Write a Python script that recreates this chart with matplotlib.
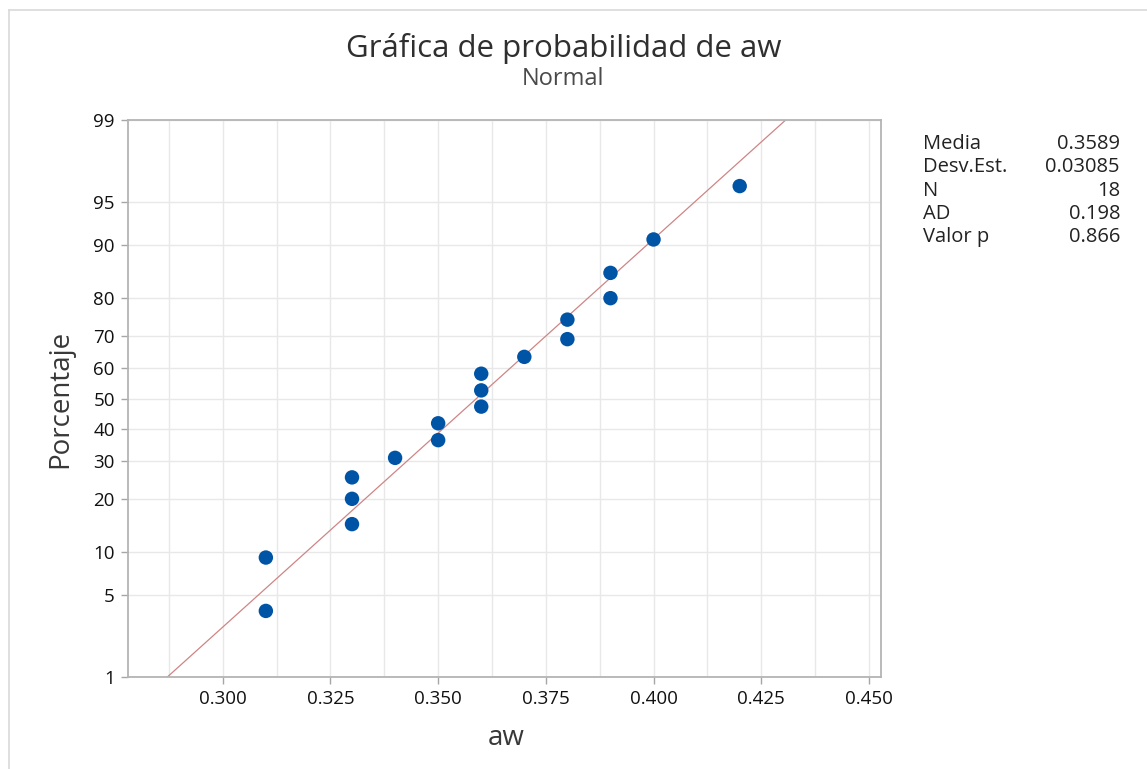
import numpy as np
import matplotlib
matplotlib.use("Agg")
import matplotlib.pyplot as plt
from matplotlib.lines import Line2D
from statistics import NormalDist

# aw values (sorted) and their plotted percentages
aw = [0.31, 0.31, 0.33, 0.33, 0.33, 0.34, 0.35, 0.35, 0.36,
      0.36, 0.36, 0.37, 0.38, 0.38, 0.39, 0.39, 0.40, 0.42]
percent = [3.8, 9.2, 14.7, 20.1, 25.5, 31.0, 36.4, 41.8, 47.3,
           52.7, 58.2, 63.6, 69.0, 74.5, 79.9, 85.3, 90.8, 96.2]

# fitted normal line
mean = 0.3589
stdev = 0.03085

y_ticks = [1, 5, 10, 20, 30, 40, 50, 60, 70, 80, 90, 95, 99]
x_ticks = [0.300, 0.325, 0.350, 0.375, 0.400, 0.425, 0.450]

stat_names = ["Media", "Desv.Est.", "N", "AD", "Valor p"]
stat_values = ["0.3589", "0.03085", "18", "0.198", "0.866"]

nd = NormalDist()


def z(p):
    return np.array([nd.inv_cdf(v / 100.0) for v in np.atleast_1d(p)])


plt.rcParams['font.family'] = ['Open Sans', 'DejaVu Sans']

W, H = 1147, 769
fig = plt.figure(figsize=(W / 100, H / 100), dpi=100)
ax = fig.add_axes([128 / W, 1 - 677 / H, (881 - 128) / W, (677 - 120) / H])

ax.set_xlim(0.2780, 0.4528)
ax.set_ylim(z(1)[0], z(99)[0])

# fitted line over 1..99 %
line_p = np.array([1.0, 99.0])
ax.plot(mean + stdev * z(line_p), z(line_p), color='#cf8585', lw=0.9, zorder=2)

ax.scatter(aw, z(percent), s=108, color='#0054a6', edgecolors='none', zorder=3)

ax.set_xticks(x_ticks)
ax.set_xticklabels([f"{v:.3f}" for v in x_ticks])
ax.set_xticks(np.arange(0.2875, 0.451, 0.0125), minor=True)
ax.set_yticks(z(y_ticks))
ax.set_yticklabels([str(v) for v in y_ticks])

ax.grid(True, which='both', color='#e8e8e8', lw=1.0, zorder=0)
ax.set_axisbelow(True)
ax.tick_params(axis='both', which='major', length=5, width=1, color='#a6a6a6',
               labelsize=13.5, labelcolor='#111111', pad=4.5)
ax.tick_params(axis='x', which='minor', length=0)
ax.tick_params(axis='y', which='minor', length=0)
for s in ax.spines.values():
    s.set_color('#b4b4b4')
    s.set_linewidth(1.3)

# titles and axis labels
fig.text(564 / W, 1 - 56.7 / H, "Gráfica de probabilidad de aw", ha='center',
         va='baseline', fontsize=22.5, color='#2f2f2f')
fig.text(562.5 / W, 1 - 85 / H, "Normal", ha='center', va='baseline',
         fontsize=17, color='#4a4a4a')
fig.text(60 / W, 1 - 398.5 / H, "Porcentaje", rotation=90, ha='center',
         va='center', fontsize=20, color='#383838')
fig.text(506 / W, 1 - 745 / H, "aw", ha='center', va='baseline',
         fontsize=20, color='#383838')

# stats table
baselines = [149, 172, 195.5, 219, 242]
for name, val, b in zip(stat_names, stat_values, baselines):
    fig.text(923 / W, 1 - b / H, name, ha='left', va='baseline',
             fontsize=14.5, color='#222222')
    fig.text(1120 / W, 1 - b / H, val, ha='right', va='baseline',
             fontsize=14.5, color='#222222')

# light frame of the screenshot
fig.add_artist(Line2D([8.5 / W, 8.5 / W], [0, 1 - 9.5 / H], transform=fig.transFigure,
                      color='#d9d9d9', lw=1.2))
fig.add_artist(Line2D([8.5 / W, 1], [1 - 9.5 / H, 1 - 9.5 / H], transform=fig.transFigure,
                      color='#d9d9d9', lw=1.2))

fig.savefig("out.png", dpi=100)
